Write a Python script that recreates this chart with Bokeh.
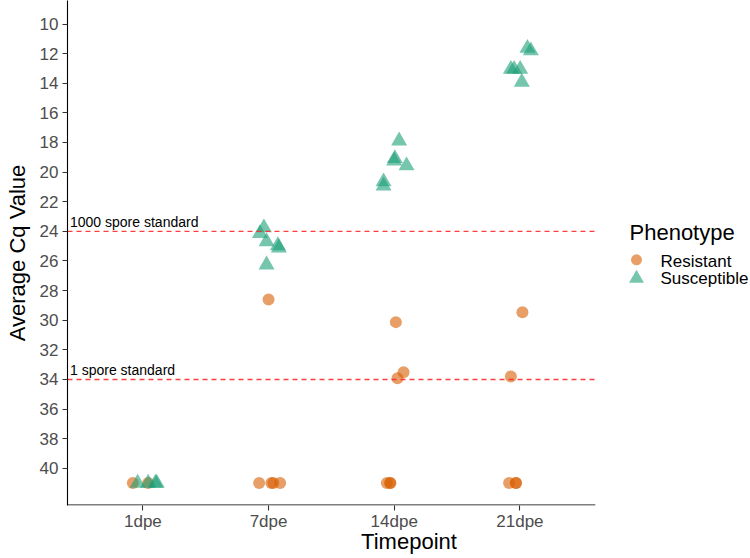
from bokeh.plotting import figure
from bokeh.models import ColumnDataSource, FixedTicker, Range1d
from bokeh.embed import file_html
from bokeh.resources import INLINE
from bokeh.core.properties import value

# ---------------- data ----------------
timepoints = ["1dpe", "7dpe", "14dpe", "21dpe"]

res_time = ["1dpe", "1dpe",
            "7dpe", "7dpe", "7dpe", "7dpe", "7dpe",
            "14dpe", "14dpe", "14dpe", "14dpe", "14dpe", "14dpe",
            "21dpe", "21dpe", "21dpe", "21dpe", "21dpe"]
res_cq = [41, 41,
          28.6, 41, 41, 41, 41,
          30.13, 33.51, 33.92, 41, 41, 41,
          29.46, 33.80, 41, 41, 41]
res_jitter = [-0.08, 0.042,
              0.0, -0.075, 0.022, 0.038, 0.092,
              0.013, 0.074, 0.026, -0.059, -0.033, -0.03,
              0.02, -0.072, -0.086, -0.033, -0.03]

sus_time = ["1dpe", "1dpe", "1dpe", "1dpe",
            "7dpe", "7dpe", "7dpe", "7dpe", "7dpe", "7dpe",
            "14dpe", "14dpe", "14dpe", "14dpe", "14dpe", "14dpe",
            "21dpe", "21dpe", "21dpe", "21dpe", "21dpe", "21dpe"]
sus_cq = [41, 41, 41, 41,
          23.75, 24.14, 24.69, 24.96, 25.11, 26.26,
          17.89, 19.08, 19.24, 19.57, 20.65, 20.93,
          11.63, 11.80, 13.05, 13.05, 13.05, 13.92]
sus_jitter = [-0.042, 0.042, 0.10, 0.11,
              -0.037, -0.069, -0.016, 0.074, 0.082, -0.016,
              0.039, 0.005, 0.0, 0.098, -0.085, -0.085,
              0.06, 0.087, -0.072, -0.046, 0.002, 0.015]

standard_cq = [24, 34]
standard_labels = ["1000 spore standard", "1 spore standard"]

y_ticks = list(range(10, 41, 2))

phenotypes = ["Resistant", "Susceptible"]
colors = ["#D95F02", "#1B9E77"]

FONT = "Liberation Sans"

# ---------------- geometry (pixels) ----------------
W, H = 750, 558
BORDER_L, BORDER_B = 67, 53
FRAME_W, FRAME_H = W - BORDER_L, H - BORDER_B
PX_PER_X = 125.67       # pixels per category step
PX_PER_Y = 14.81        # pixels per Cq unit
X0 = 0.4                # left edge of the panel (data)
X_PANEL_END = 4.6       # right edge of the data panel (data)
Y_TOP = 10 - 23.5 / PX_PER_Y   # Cq value at top of the frame
x_range = Range1d(X0, X0 + FRAME_W / PX_PER_X)
y_range = Range1d(Y_TOP + FRAME_H / PX_PER_Y, Y_TOP)


def fx(px):  # page pixel -> data x (for legend layout)
    return X0 + (px - BORDER_L) / PX_PER_X


def fy(py):  # page pixel -> data y (for legend layout)
    return Y_TOP + py / PX_PER_Y


# ---------------- main figure ----------------
def xpos(times, jit):
    return [timepoints.index(t) + 1 + j for t, j in zip(times, jit)]


res_src = ColumnDataSource(dict(x=xpos(res_time, res_jitter), y=res_cq))
sus_src = ColumnDataSource(dict(x=xpos(sus_time, sus_jitter), y=sus_cq))

p = figure(width=W, height=H, output_backend="svg", toolbar_location=None,
           x_range=x_range, y_range=y_range,
           min_border_left=BORDER_L, min_border_right=0,
           min_border_top=0, min_border_bottom=BORDER_B)
p.outline_line_color = None
p.grid.visible = False

p.scatter("x", "y", source=res_src, marker="circle", size=12,
          fill_color=colors[0], fill_alpha=0.6, line_color=None)
p.scatter("x", "y", source=sus_src, marker="triangle", size=16,
          fill_color=colors[1], fill_alpha=0.6, line_color=None)

# dashed standards, limited to the data panel
p.multi_line(xs=[[X0, X_PANEL_END] for _ in standard_cq],
             ys=[[v, v] for v in standard_cq],
             line_color="#FF2A2A", line_alpha=0.9, line_dash="5 4", line_width=1.4)

txt_src = ColumnDataSource(dict(x=[0.42] * len(standard_cq),
                                y=[v - 0.66 for v in standard_cq],
                                t=standard_labels))
p.text("x", "y", text="t", source=txt_src, text_font=value(FONT),
       text_font_size="14px", text_color="black",
       text_align="left", text_baseline="alphabetic")

# bottom axis line only under the data panel
y_bottom = y_range.start - 0.5 / PX_PER_Y
p.line(x=[X0, X_PANEL_END], y=[y_bottom, y_bottom],
       line_color="black", line_width=1.2)

p.xaxis.ticker = FixedTicker(ticks=[1, 2, 3, 4])
p.xaxis.major_label_overrides = {i + 1: t for i, t in enumerate(timepoints)}
p.yaxis.ticker = FixedTicker(ticks=y_ticks)
p.xaxis.axis_label = "Timepoint"
p.yaxis.axis_label = "Average Cq Value"

for ax in (p.xaxis[0], p.yaxis[0]):
    ax.axis_line_color = "black"
    ax.axis_line_width = 1.1
    ax.major_tick_line_color = "#333333"
    ax.major_tick_line_width = 1.1
    ax.major_tick_in = 0
    ax.major_tick_out = 5
    ax.minor_tick_line_color = None
    ax.major_label_text_font = FONT
    ax.major_label_text_font_size = "17px"
    ax.major_label_text_color = "#4D4D4D"
    ax.axis_label_text_font = FONT
    ax.axis_label_text_font_size = "22px"
    ax.axis_label_text_font_style = "normal"
    ax.axis_label_text_color = "black"
p.xaxis.axis_line_color = None
p.xaxis.major_label_standoff = 1
p.xaxis.axis_label_standoff = -5
p.yaxis.major_label_standoff = 4
p.yaxis.axis_label_standoff = 7

# ---------------- legend (drawn in the free area right of the panel) ----------------
LEG_X = 629                # page x of legend left edge
p.text(x=[fx(LEG_X)], y=[fy(232)], text=["Phenotype"], text_font=value(FONT),
       text_font_size="22px", text_color="black", text_baseline="alphabetic")
p.scatter(x=[fx(LEG_X + 7)], y=[fy(259.3)], marker="circle", size=11,
          fill_color=colors[0], fill_alpha=0.6, line_color=None)
p.scatter(x=[fx(LEG_X + 7)], y=[fy(277.8)], marker="triangle", size=15,
          fill_color=colors[1], fill_alpha=0.6, line_color=None)
p.text(x=[fx(LEG_X + 31)] * 2, y=[fy(260.7), fy(277.7)], text=phenotypes,
       text_font=value(FONT), text_font_size="17px", text_color="black",
       text_baseline="alphabetic")

open("out.html", "w").write(file_html(p, INLINE))
